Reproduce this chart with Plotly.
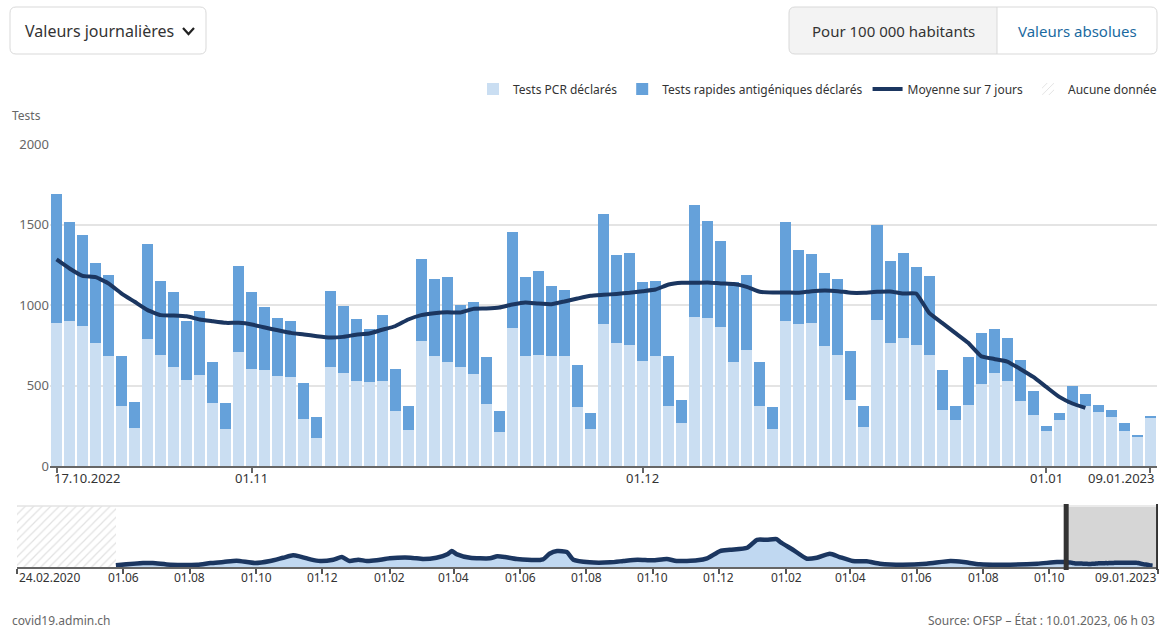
import plotly.graph_objects as go
import pandas as pd

W, H = 1165, 628

# ---------------- data ----------------
start_date = "2022-10-17"
n_days = 85
dates = pd.date_range(start_date, periods=n_days)

pcr = [889, 899, 870, 765, 682, 373, 236, 790, 692, 616, 537, 566, 394, 232, 709, 603, 597, 557, 551, 290,
       174, 618, 580, 528, 524, 528, 340, 224, 775, 684, 649, 616, 572, 388, 213, 856, 682, 692, 684, 684,
       365, 232, 883, 761, 750, 655, 686, 373, 267, 924, 920, 864, 649, 721, 375, 230, 899, 879, 887, 744,
       692, 410, 240, 906, 765, 798, 752, 692, 346, 284, 377, 508, 578, 531, 404, 315, 216, 286, 385, 375,
       336, 307, 218, 182, 300]
rapid = [798, 618, 566, 493, 506, 311, 162, 592, 460, 462, 365, 394, 255, 162, 532, 475, 390, 363, 348, 224,
         133, 472, 411, 382, 330, 409, 261, 149, 510, 475, 522, 387, 446, 292, 127, 597, 495, 520, 433, 408,
         261, 95, 684, 547, 576, 489, 466, 311, 143, 695, 603, 533, 491, 464, 272, 139, 618, 460, 427, 452,
         467, 305, 135, 590, 508, 522, 481, 489, 249, 91, 301, 317, 270, 265, 255, 153, 31, 41, 112, 73,
         43, 43, 49, 13, 7]
ma7 = [1283, 1227, 1181, 1173, 1134, 1071, 1020, 968, 937, 935, 930, 910, 899, 889, 889, 879, 860, 843, 827, 817,
       806, 798, 802, 815, 823, 846, 868, 910, 937, 949, 955, 953, 976, 978, 984, 1003, 1016, 1009, 1005, 1022,
       1040, 1057, 1063, 1069, 1076, 1086, 1096, 1127, 1138, 1138, 1140, 1134, 1130, 1113, 1082, 1077, 1078, 1076, 1086, 1090,
       1086, 1076, 1076, 1082, 1084, 1071, 1071, 951, 889, 827, 765, 682, 665, 649, 603, 553, 491, 429, 388, 361]
ma_dates = dates[:len(ma7)]

# overview (navigator): 7-day average read at sample dates
nav_dates = ["2020-05-25", "2020-06-19", "2020-06-28", "2020-07-14", "2020-08-08", "2020-08-20", "2020-09-01",
             "2020-09-13", "2020-09-30", "2020-10-14", "2020-10-26", "2020-11-04", "2020-11-10", "2020-11-20",
             "2020-11-29", "2020-12-11", "2020-12-19", "2020-12-26", "2021-01-03", "2021-01-11", "2021-01-20",
             "2021-02-01", "2021-02-20", "2021-03-04", "2021-03-16", "2021-03-26", "2021-03-30", "2021-04-04",
             "2021-04-16", "2021-05-04", "2021-05-11", "2021-05-18", "2021-05-29", "2021-06-22", "2021-06-28",
             "2021-07-05", "2021-07-14", "2021-07-20", "2021-08-04", "2021-08-23", "2021-09-04", "2021-09-17",
             "2021-10-01", "2021-10-14", "2021-10-23", "2021-11-11", "2021-11-20", "2021-12-02", "2021-12-11",
             "2021-12-27", "2022-01-05", "2022-01-14", "2022-01-23", "2022-01-26", "2022-02-07", "2022-02-20",
             "2022-03-01", "2022-03-13", "2022-03-22", "2022-04-03", "2022-04-16", "2022-04-28", "2022-05-19",
             "2022-06-10", "2022-07-02", "2022-07-14", "2022-07-29", "2022-08-26", "2022-09-20", "2022-10-08"]
nav_values = [440, 1040, 1040, 600, 600, 1040, 1300, 1640, 1040, 1560, 2420, 3040, 2780, 2000,
              1560, 1900, 2600, 1560, 1900, 1560, 1740, 2260, 2420, 2080, 2420, 3300, 4160, 3300,
              2420, 2260, 2780, 2600, 2080, 2000, 3460, 4160, 3900, 1900, 1220, 1220, 1560, 1900,
              1740, 2080, 1560, 1740, 2260, 4160, 4500, 5020, 7100, 7100, 7280, 6580, 4500, 2160,
              2420, 3460, 2600, 1560, 1480, 860, 600, 860, 1560, 1300, 700, 600, 860, 1300]

nav_start, nav_end = "2020-02-24", "2023-01-09"
nodata_start, nodata_end = "2020-02-24", "2020-05-25"
nav_ymax = 15900

main_ticks = ["2022-10-17", "2022-11-01", "2022-12-01", "2023-01-01", "2023-01-09"]
main_labels = ["17.10.2022", "01.11", "01.12", "01.01", "09.01.2023"]
nav_ticks = ["2020-02-24", "2020-06-01", "2020-08-01", "2020-10-01", "2020-12-01", "2021-02-01", "2021-04-01",
             "2021-06-01", "2021-08-01", "2021-10-01", "2021-12-01", "2022-02-01", "2022-04-01", "2022-06-01",
             "2022-08-01", "2022-10-01", "2023-01-09"]
nav_labels = ["24.02.2020", "01.06", "01.08", "01.10", "01.12", "01.02", "01.04", "01.06", "01.08", "01.10",
              "01.12", "01.02", "01.04", "01.06", "01.08", "01.10", "09.01.2023"]

# ---------------- styling ----------------
C_PCR = "#cadef2"
C_RAP = "#65a1da"
C_MA = "#1b3660"
FONT = "Noto Sans"


def px(x):
    return x / W


def py(y):
    return 1 - y / H


def rrect(x0, y0, x1, y1, r, corners="all"):
    rx, ry = r / W, r / H
    X0, X1, Y0, Y1 = px(x0), px(x1), py(y0), py(y1)  # Y0 top, Y1 bottom
    left = corners in ("all", "left")
    right = corners in ("all", "right")
    p = f"M {X0 + (rx if left else 0)},{Y0} "
    if right:
        p += f"L {X1 - rx},{Y0} Q {X1},{Y0} {X1},{Y0 - ry} L {X1},{Y1 + ry} Q {X1},{Y1} {X1 - rx},{Y1} "
    else:
        p += f"L {X1},{Y0} L {X1},{Y1} "
    if left:
        p += f"L {X0 + rx},{Y1} Q {X0},{Y1} {X0},{Y1 + ry} L {X0},{Y0 - ry} Q {X0},{Y0} {X0 + rx},{Y0} "
    else:
        p += f"L {X0},{Y1} L {X0},{Y0} "
    return p + "Z"


fig = go.Figure()
bar_w = 0.845 * 86400000

fig.add_trace(go.Bar(x=dates, y=pcr, width=[bar_w] * n_days, name="Tests PCR déclarés",
                     marker=dict(color=C_PCR, line=dict(width=0)), xaxis="x", yaxis="y"))
fig.add_trace(go.Bar(x=dates, y=rapid, width=[bar_w] * n_days, name="Tests rapides antigéniques déclarés",
                     marker=dict(color=C_RAP, line=dict(width=0)), xaxis="x", yaxis="y"))
fig.add_trace(go.Scatter(x=ma_dates, y=ma7, mode="lines", name="Moyenne sur 7 jours",
                         line=dict(color=C_MA, width=4, shape="spline", smoothing=0.4), xaxis="x", yaxis="y"))

# navigator no-data hatch
nd0, nd1 = pd.Timestamp(nodata_start), pd.Timestamp(nodata_end)
fig.add_trace(go.Bar(x=[nd0 + (nd1 - nd0) / 2], y=[nav_ymax], width=[(nd1 - nd0).total_seconds() * 1000],
                     name="Aucune donnée", xaxis="x2", yaxis="y2",
                     marker=dict(color="white", line=dict(width=0),
                                 pattern=dict(shape="/", fgcolor="#c4c4c4", bgcolor="white", size=6, solidity=0.2))))

nav_x = list(pd.to_datetime(nav_dates)) + list(ma_dates)
nav_y = nav_values + ma7
fig.add_trace(go.Scatter(x=nav_x, y=nav_y, mode="lines", showlegend=False, xaxis="x2", yaxis="y2",
                         fill="tozeroy", fillcolor="rgba(185,212,240,0.9)",
                         line=dict(color=C_MA, width=4.5, shape="spline", smoothing=0.6)))

shapes = []
annotations = []

# dropdown box
shapes.append(dict(type="path", xref="paper", yref="paper", path=rrect(10, 7, 206, 54, 6),
                   line=dict(color="#d9d9d9", width=1), fillcolor="white", layer="above"))
annotations.append(dict(xref="paper", yref="paper", x=px(23), y=py(31), text="Valeurs journalières",
                        showarrow=False, xanchor="left", yanchor="middle",
                        font=dict(family=FONT, size=16, color="#333333")))
shapes.append(dict(type="path", xref="paper", yref="paper",
                   path=f"M {px(183)},{py(28)} L {px(188.5)},{py(34)} L {px(194)},{py(28)}",
                   line=dict(color="#222222", width=2.2)))

# toggle buttons
shapes.append(dict(type="path", xref="paper", yref="paper", path=rrect(789, 7, 997, 54, 6, "left"),
                   line=dict(width=0), fillcolor="#f3f3f3"))
shapes.append(dict(type="path", xref="paper", yref="paper", path=rrect(789, 7, 1157, 54, 6),
                   line=dict(color="#d9d9d9", width=1), fillcolor="rgba(0,0,0,0)"))
shapes.append(dict(type="line", xref="paper", yref="paper", x0=px(997), x1=px(997), y0=py(7), y1=py(54),
                   line=dict(color="#d9d9d9", width=1)))
annotations.append(dict(xref="paper", yref="paper", x=px(893), y=py(31), text="Pour 100 000 habitants",
                        showarrow=False, xanchor="center", yanchor="middle",
                        font=dict(family=FONT, size=15, color="#333333")))
annotations.append(dict(xref="paper", yref="paper", x=px(1077), y=py(31), text="Valeurs absolues",
                        showarrow=False, xanchor="center", yanchor="middle",
                        font=dict(family=FONT, size=15, color="#1b6aa0")))

# y title
annotations.append(dict(xref="paper", yref="paper", x=px(10), y=py(115), text="Tests", showarrow=False,
                        xanchor="left", yanchor="middle", font=dict(family=FONT, size=12, color="#666666")))

# main x labels
anch = ["left", "center", "center", "center", "right"]
shift = [-5, 0, 0, 0, 6]
for d, lab, a, s in zip(main_ticks, main_labels, anch, shift):
    annotations.append(dict(xref="x", yref="paper", x=d, y=py(478), text=lab, showarrow=False,
                            xanchor=a, yanchor="middle", xshift=s,
                            font=dict(family=FONT, size=13, color="#333333")))

# navigator labels
for i, (d, lab) in enumerate(zip(nav_ticks, nav_labels)):
    a = "left" if i == 0 else ("right" if i == len(nav_ticks) - 1 else "center")
    annotations.append(dict(xref="x2", yref="paper", x=d, y=py(577), text=lab, showarrow=False,
                            xanchor=a, yanchor="middle",
                            font=dict(family=FONT, size=12, color="#333333")))

# navigator top line
shapes.append(dict(type="line", xref="paper", yref="paper", x0=px(17), x1=px(1158), y0=py(506), y1=py(506),
                   line=dict(color="#e3e3e3", width=1.5)))
# navigator selection window
sel0 = dates[0] - pd.Timedelta(hours=12)
sel1 = dates[-1] + pd.Timedelta(hours=12)
shapes.append(dict(type="rect", xref="x2", yref="paper", x0=sel0, x1=sel1, y0=py(567), y1=py(507),
                   fillcolor="#d6d6d6", line=dict(width=0), layer="below"))
for xv in (sel0, sel1):
    shapes.append(dict(type="line", xref="x2", yref="paper", x0=xv, x1=xv, y0=py(570), y1=py(504),
                       line=dict(color="#333333", width=5), layer="above"))

# footer
annotations.append(dict(xref="paper", yref="paper", x=px(10), y=py(620), text="covid19.admin.ch",
                        showarrow=False, xanchor="left", yanchor="middle",
                        font=dict(family=FONT, size=12, color="#666666")))
annotations.append(dict(xref="paper", yref="paper", x=px(1157), y=py(620),
                        text="Source: OFSP – État : 10.01.2023, 06 h 03", showarrow=False,
                        xanchor="right", yanchor="middle", font=dict(family=FONT, size=12, color="#666666")))

fig.update_layout(
    width=W, height=H, margin=dict(l=0, r=0, t=0, b=0, pad=0, autoexpand=False),
    paper_bgcolor="white", plot_bgcolor="white",
    font=dict(family=FONT, size=12, color="#333333"),
    barmode="stack", bargap=0,
    showlegend=True,
    legend=dict(orientation="h", xanchor="right", x=px(1162), yanchor="middle", y=py(89),
                font=dict(family=FONT, size=12, color="#333333"), itemwidth=30,
                bgcolor="rgba(0,0,0,0)", traceorder="normal"),
    xaxis=dict(domain=[px(50), px(1157)], type="date",
               range=[dates[0] - pd.Timedelta(hours=12), dates[-1] + pd.Timedelta(hours=12)],
               showgrid=False, zeroline=False, showline=True, linecolor="#666666", linewidth=2,
               tickvals=main_ticks, showticklabels=False, ticks="outside", ticklen=5, tickwidth=1.5,
               tickcolor="#666666", anchor="y", fixedrange=True, automargin=False),
    yaxis=dict(domain=[py(466), py(144)], range=[0, 2000], tickvals=[0, 500, 1000, 1500, 2000],
               showgrid=True, gridcolor="#e4e4e4", gridwidth=1.5, zeroline=False, showline=False,
               tickfont=dict(family=FONT, size=13, color="#666666"), ticks="", anchor="x", fixedrange=True,
               automargin=False),
    xaxis2=dict(domain=[px(17), px(1158)], type="date", range=[nav_start, nav_end],
                showgrid=False, zeroline=False, showline=True, linecolor="#666666", linewidth=2,
                tickvals=nav_ticks, showticklabels=False, ticks="outside", ticklen=5, tickwidth=1.5,
                tickcolor="#555555", anchor="y2", fixedrange=True, automargin=False),
    yaxis2=dict(domain=[py(567), py(506)], range=[0, nav_ymax], showgrid=False, zeroline=False,
                showline=False, showticklabels=False, anchor="x2", fixedrange=True, automargin=False),
    shapes=shapes, annotations=annotations,
)

fig.write_html("out.html", config={"displayModeBar": False},
               post_script="document.body.style.margin='0';")
